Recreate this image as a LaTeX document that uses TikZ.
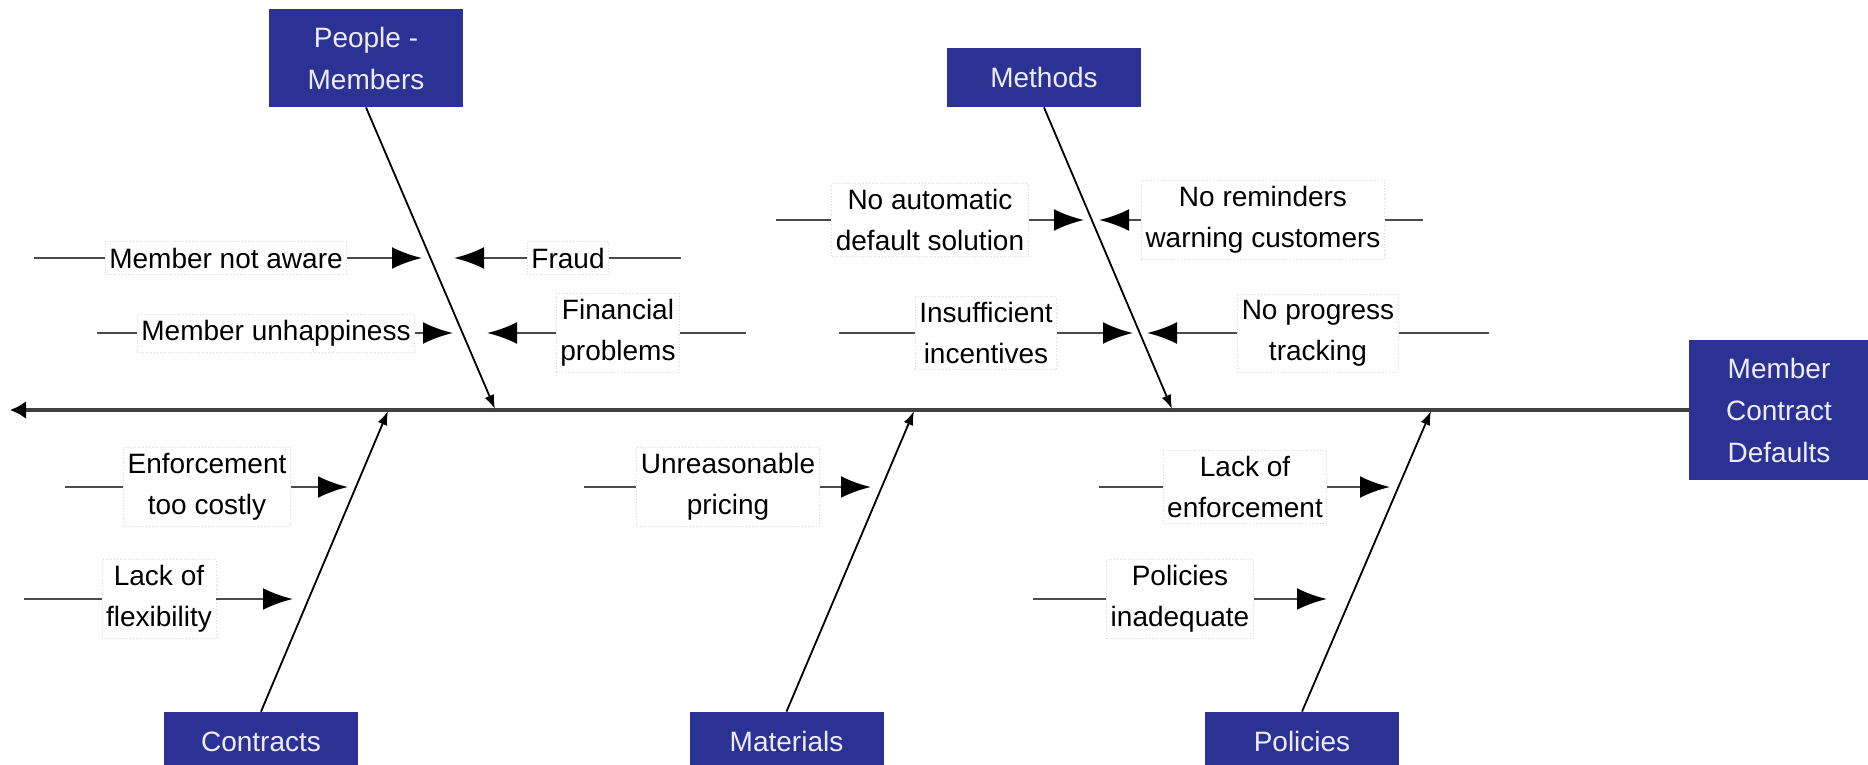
\documentclass[tikz,border=0pt]{standalone}
\usepackage{fontspec}
\setmainfont{Liberation Sans}
\usetikzlibrary{arrows.meta}
\definecolor{catblue}{RGB}{44,50,148}
\definecolor{cattext}{RGB}{236,236,255}
\definecolor{causegray}{RGB}{75,75,75}
\begin{document}
\begin{tikzpicture}[x=0.5pt,y=-0.5pt,
  category/.style={fill=catblue, text=cattext, minimum width=97pt, align=center,
    font=\fontsize{14}{21}\selectfont, inner sep=0pt},
  cause/.style={fill=white, draw=black!15, densely dotted, align=center,
    font=\fontsize{14}{20.5}\selectfont, inner xsep=2pt, inner ysep=3pt, text=black},
  causeline/.style={draw=causegray, line width=1.4pt},
  causearrow/.style={causeline, -{Latex[length=15pt,width=11pt,color=black]}},
  bone/.style={draw=black, line width=0.9pt, -{Latex[length=7pt,width=5pt]}},
  spine/.style={draw=black!75, line width=2pt, -{Latex[length=8pt,width=9pt,color=black]}},
]
% page frame
\path[use as bounding box, clip] (0,0) rectangle (1868,765);
\fill[white] (0,0) rectangle (1868,765);

% effect and category boxes
\node[category, minimum width=90pt, minimum height=70pt] (effect) at (1779,410) {Member\\Contract\\Defaults};
\node[category, minimum height=49pt] (people) at (366,58) {People -\\Members};
\node[category, minimum height=29.5pt] (methods) at (1044,77.5) {Methods};
\node[category, minimum height=29.5pt] (contracts) at (261,741.5) {Contracts};
\node[category, minimum height=29.5pt] (materials) at (786.5,741.5) {Materials};
\node[category, minimum height=29.5pt] (policies) at (1302,741.5) {Policies};

% spine
\coordinate (tail) at (10,410);
\draw[spine] (effect.west) -- (tail);

% bones
\coordinate (jpeople) at (495,409);
\coordinate (jmethods) at (1172,409);
\coordinate (jcontracts) at (388,411);
\coordinate (jmaterials) at (914,411);
\coordinate (jpolicies) at (1431,411);
\draw[bone] (people.south) -- (jpeople);
\draw[bone] (methods.south) -- (jmethods);
\draw[bone] (contracts.north) -- (jcontracts);
\draw[bone] (materials.north) -- (jmaterials);
\draw[bone] (policies.north) -- (jpolicies);

% causes: label, free end, arrow tip
% People - Members
\node[cause] (c1) at (226,258) {Member not aware};
\coordinate (f1) at (34,258); \coordinate (t1) at (422,258);
\node[cause] (c2) at (568,258) {Fraud};
\coordinate (f2) at (681,258); \coordinate (t2) at (454,258);
\node[cause] (c3) at (276,333) {Member unhappiness};
\coordinate (f3) at (97,333); \coordinate (t3) at (453,333);
\node[cause] (c4) at (618,333) {Financial\\problems};
\coordinate (f4) at (746,333); \coordinate (t4) at (487,333);
% Methods
\node[cause] (c5) at (930,220) {No automatic\\default solution};
\coordinate (f5) at (776,220); \coordinate (t5) at (1084,220);
\node[cause] (c6) at (1263,220) {No reminders\\warning customers};
\coordinate (f6) at (1423,220); \coordinate (t6) at (1099,220);
\node[cause] (c7) at (986,333) {Insufficient\\incentives};
\coordinate (f7) at (839,333); \coordinate (t7) at (1133,333);
\node[cause] (c8) at (1318,333) {No progress\\tracking};
\coordinate (f8) at (1489,333); \coordinate (t8) at (1147,333);
% Contracts
\node[cause] (c9) at (207,487) {Enforcement\\too costly};
\coordinate (f9) at (65,487); \coordinate (t9) at (348,487);
\node[cause] (c10) at (159,599) {Lack of\\flexibility};
\coordinate (f10) at (24,599); \coordinate (t10) at (293,599);
% Materials
\node[cause] (c11) at (728,487) {Unreasonable\\pricing};
\coordinate (f11) at (584,487); \coordinate (t11) at (871,487);
% Policies
\node[cause] (c12) at (1245,487) {Lack of\\enforcement};
\coordinate (f12) at (1099,487); \coordinate (t12) at (1390,487);
\node[cause] (c13) at (1180,599) {Policies\\inadequate};
\coordinate (f13) at (1033,599); \coordinate (t13) at (1327,599);

% left-side causes point right
\foreach \i in {1,3,5,7,9,10,11,12,13} {
  \draw[causeline] (f\i) -- (c\i.west);
  \draw[causearrow] (c\i.east) -- (t\i);
}
% right-side causes point left
\foreach \i in {2,4,6,8} {
  \draw[causeline] (f\i) -- (c\i.east);
  \draw[causearrow] (c\i.west) -- (t\i);
}
\end{tikzpicture}
\end{document}
